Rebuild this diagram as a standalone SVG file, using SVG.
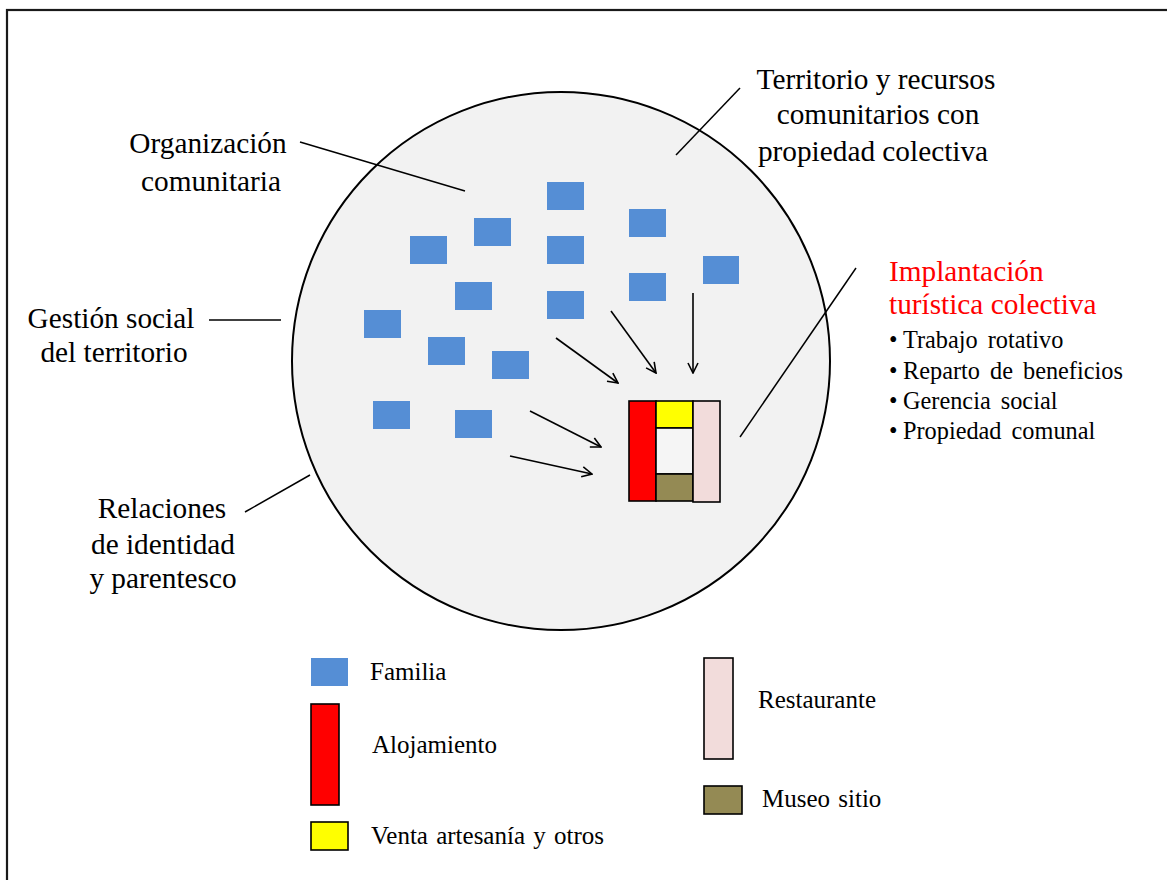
<svg xmlns="http://www.w3.org/2000/svg" width="1167" height="880" viewBox="0 0 1167 880">
<defs>
<style>
text{font-family:"Liberation Serif","Times New Roman",serif;fill:#000}
.lbl{font-size:29.3px}
.red{fill:#ff0000}
.bul{font-size:24.3px;word-spacing:4px}
.leg{font-size:25px;word-spacing:2px}
.fam{fill:#558ed5}
.k{stroke:#000;stroke-width:1.6}
.con{stroke:#000;stroke-width:1.5;fill:none}
.arr{stroke:#000;stroke-width:1.6;fill:none;marker-end:url(#ah)}
</style>
<marker id="ah" viewBox="0 0 12 12" refX="11" refY="6" markerWidth="12" markerHeight="12" markerUnits="userSpaceOnUse" orient="auto">
<path d="M1,1 L11,6 L1,11" fill="none" stroke="#000" stroke-width="1.6"/>
</marker>
</defs>
<rect width="1167" height="880" fill="#ffffff"/>
<rect x="7" y="10" width="1200" height="900" fill="none" stroke="#1a1a1a" stroke-width="2.2"/>
<g id="territorio-circulo">
<circle cx="561" cy="361" r="269" fill="#f2f2f2" stroke="#000" stroke-width="2"/>
</g>
<g id="familias">
<rect class="fam" x="547" y="182" width="37" height="28"/>
<rect class="fam" x="629" y="209" width="37" height="28"/>
<rect class="fam" x="474" y="218" width="37" height="28"/>
<rect class="fam" x="410" y="236" width="37" height="28"/>
<rect class="fam" x="547" y="236" width="37" height="28"/>
<rect class="fam" x="703" y="256" width="36" height="28"/>
<rect class="fam" x="629" y="273" width="37" height="28"/>
<rect class="fam" x="455" y="282" width="37" height="28"/>
<rect class="fam" x="547" y="291" width="37" height="28"/>
<rect class="fam" x="364" y="310" width="37" height="28"/>
<rect class="fam" x="428" y="337" width="37" height="28"/>
<rect class="fam" x="492" y="351" width="37" height="28"/>
<rect class="fam" x="373" y="401" width="37" height="28"/>
<rect class="fam" x="455" y="410" width="37" height="28"/>
</g>
<g id="implantacion-edificio">
<rect class="k" x="629" y="401" width="27" height="100" fill="#ff0000"/>
<rect class="k" x="656" y="401" width="37" height="27" fill="#ffff00"/>
<rect class="k" x="656" y="428" width="37" height="46" fill="#f5f5f5"/>
<rect class="k" x="656" y="474" width="37" height="27" fill="#948a54"/>
<rect class="k" x="693" y="401" width="27" height="101" fill="#f2dcdb"/>
</g>
<g id="conectores">
<line class="con" x1="300" y1="142" x2="465" y2="191"/>
<line class="con" x1="740" y1="88" x2="676" y2="155"/>
<line class="con" x1="209" y1="320" x2="281" y2="320"/>
<line class="con" x1="245" y1="512" x2="310" y2="475"/>
<line class="con" x1="856" y1="268" x2="740" y2="437"/>
<line class="arr" x1="556" y1="338" x2="618" y2="383"/>
<line class="arr" x1="611" y1="311" x2="656" y2="373"/>
<line class="arr" x1="693" y1="293" x2="693" y2="373"/>
<line class="arr" x1="530" y1="411" x2="601" y2="447"/>
<line class="arr" x1="510" y1="456" x2="592" y2="474"/>
</g>
<g id="lbl-organizacion">
<text class="lbl" x="208" y="153" text-anchor="middle">Organización</text>
<text class="lbl" x="211" y="191" text-anchor="middle">comunitaria</text>
</g>
<g id="lbl-territorio">
<text class="lbl" x="876" y="89" text-anchor="middle">Territorio y recursos</text>
<text class="lbl" x="878" y="124" text-anchor="middle">comunitarios con</text>
<text class="lbl" x="873" y="161" text-anchor="middle">propiedad colectiva</text>
</g>
<g id="lbl-gestion">
<text class="lbl" x="111" y="328" text-anchor="middle">Gestión social</text>
<text class="lbl" x="114" y="362" text-anchor="middle">del territorio</text>
</g>
<g id="lbl-relaciones">
<text class="lbl" x="162" y="518" text-anchor="middle">Relaciones</text>
<text class="lbl" x="163" y="554" text-anchor="middle">de identidad</text>
<text class="lbl" x="163" y="588" text-anchor="middle">y parentesco</text>
</g>
<g id="lbl-implantacion">
<text class="lbl red" x="889" y="281">Implantación</text>
<text class="lbl red" x="889" y="314">turística colectiva</text>
<text class="bul" x="889" y="348">•<tspan x="903">Trabajo rotativo</tspan></text>
<text class="bul" x="889" y="379">•<tspan x="903">Reparto de beneficios</tspan></text>
<text class="bul" x="889" y="409">•<tspan x="903">Gerencia social</tspan></text>
<text class="bul" x="889" y="439">•<tspan x="903">Propiedad comunal</tspan></text>
</g>
<g id="leyenda">
<g id="ley-familia"><rect class="fam" x="311" y="658" width="37" height="28"/><text class="leg" x="370" y="680">Familia</text></g>
<g id="ley-alojamiento"><rect class="k" x="311" y="704" width="28" height="101" fill="#ff0000"/><text class="leg" x="372" y="753">Alojamiento</text></g>
<g id="ley-venta"><rect class="k" x="311" y="822" width="37" height="28" fill="#ffff00"/><text class="leg" x="371" y="844">Venta artesanía y otros</text></g>
<g id="ley-restaurante"><rect class="k" x="704" y="658" width="29" height="101" fill="#f2dcdb"/><text class="leg" x="758" y="708">Restaurante</text></g>
<g id="ley-museo"><rect class="k" x="704" y="786" width="38" height="28" fill="#948a54"/><text class="leg" x="762" y="807">Museo sitio</text></g>
</g>
</svg>
